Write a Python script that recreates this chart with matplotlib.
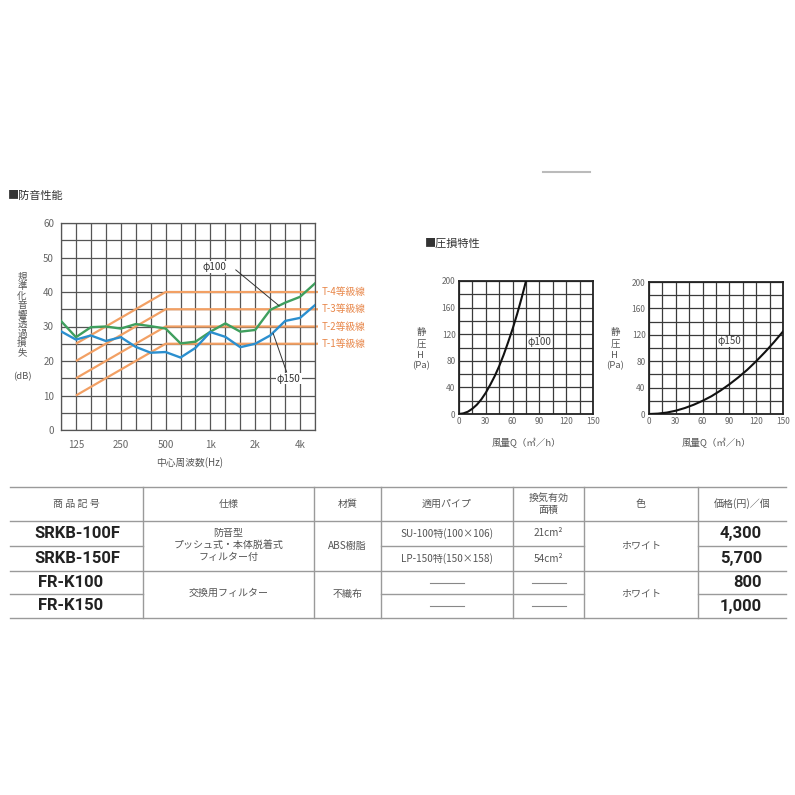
import matplotlib
matplotlib.use("Agg")
import matplotlib.pyplot as plt
from matplotlib.ticker import MultipleLocator

plt.rcParams['font.family'] = ['Noto Sans CJK JP', 'DejaVu Sans']

# 防音性能 : 1/3 octave bands
bands = ["100", "125", "160", "200", "250", "315", "400", "500", "630", "800",
         "1k", "1.25k", "1.6k", "2k", "2.5k", "3.15k", "4k", "5k"]
shown_bands = ["125", "250", "500", "1k", "2k", "4k"]
loss_phi100 = [31.6, 26.9, 29.8, 30.0, 29.4, 30.7, 30.1, 29.4, 25.1, 25.6,
               28.5, 30.9, 28.5, 29.0, 34.8, 36.9, 38.6, 42.5]
loss_phi150 = [28.6, 26.2, 27.4, 25.8, 26.9, 24.1, 22.4, 22.6, 21.0, 23.8,
               28.4, 27.0, 24.0, 25.0, 27.4, 31.6, 32.5, 36.2]
grade_names = ["T-1等級線", "T-2等級線", "T-3等級線", "T-4等級線"]
grade_start = [10, 15, 20, 25]   # at 125 Hz
grade_flat = [25, 30, 35, 40]    # 500 Hz and up

# 圧損特性
flow_phi100 = [0, 5, 10, 15, 20, 25, 30, 35, 40, 45, 50, 55, 60, 65, 70, 75]
pres_phi100 = [0, 1, 3.5, 8, 14, 22, 32, 44, 57, 72, 89, 108, 128, 150, 174, 200]
flow_phi150 = [0, 10, 20, 30, 40, 50, 60, 70, 80, 90, 100, 110, 120, 130, 140, 150]
pres_phi150 = [0, 0.6, 2.2, 5, 9, 14, 20, 27, 35.5, 45, 55.5, 67, 80, 94, 109, 125]

# table
header = ["商 品 記 号", "仕様", "材質", "適用パイプ", "換気有効\n面積", "色", "価格(円)／個"]
models = ["SRKB-100F", "SRKB-150F", "FR-K100", "FR-K150"]
specs = ["防音型\nプッシュ式・本体脱着式\nフィルター付", "交換用フィルター"]
materials = ["ABS樹脂", "不織布"]
pipes = ["SU-100特(100×106)", "LP-150特(150×158)", None, None]
areas = ["21cm²", "54cm²", None, None]
colours = ["ホワイト", "ホワイト"]
prices = ["4,300", "5,700", "800", "1,000"]

W = H = 795
fig = plt.figure(figsize=(W / 100, H / 100), dpi=100)
fig.patch.set_facecolor("white")


def box(left, top, right, bottom):
    return [left / W, 1 - bottom / H, (right - left) / W, (bottom - top) / H]


# overlay in pixel coordinates for loose text and the table
bg = fig.add_axes([0, 0, 1, 1], zorder=0)
bg.set_xlim(0, W)
bg.set_ylim(H, 0)
bg.axis("off")

GRID = "#555555"
LABEL = "#666666"
ORANGE = "#f2a064"
GREEN = "#3f9f5e"
BLUE = "#2b8fcf"

# ---------------- 防音性能 ----------------
bg.text(8, 196, "■防音性能", fontsize=8, color="#333333", va="center")

ax = fig.add_axes(box(61, 223, 315, 430), zorder=2)
x = list(range(len(bands)))
ax.set_xlim(0, len(bands) - 1)
ax.set_ylim(0, 60)
ax.set_xticks([bands.index(b) for b in shown_bands])
ax.set_xticklabels(shown_bands)
ax.xaxis.set_minor_locator(MultipleLocator(1))
ax.yaxis.set_major_locator(MultipleLocator(10))
ax.yaxis.set_minor_locator(MultipleLocator(5))
ax.grid(True, which="both", color=GRID, lw=0.9, zorder=0)
ax.tick_params(which="both", length=0, labelsize=7, labelcolor=LABEL)
ax.tick_params(axis="x", pad=7)
ax.tick_params(axis="y", pad=5)
for s in ax.spines.values():
    s.set_color(GRID)
    s.set_linewidth(0.9)

i125 = bands.index("125")
i500 = bands.index("500")
iend = len(bands) - 1
for name, a, b in zip(grade_names, grade_start, grade_flat):
    ax.plot([i125, i500, iend + 0.2], [a, b, b], color=ORANGE, lw=1.6,
            zorder=2, clip_on=False, solid_capstyle="butt")
    ax.text(iend + 0.45, b, name, color="#e8874a", fontsize=7, va="center",
            ha="left", clip_on=False)

ax.plot(x, loss_phi100, color=GREEN, lw=1.7, zorder=3)
ax.plot(x, loss_phi150, color=BLUE, lw=1.7, zorder=3)

ax.plot([11.7, 14.6], [46.4, 36.0], color="#333333", lw=0.7, zorder=4)
ax.text(10.25, 47.2, "φ100", fontsize=7, color="#333333", ha="center",
        va="center", zorder=5,
        bbox=dict(facecolor="white", edgecolor="none", pad=0.6))
ax.plot([15.1, 14.2], [16.8, 28.0], color="#333333", lw=0.7, zorder=4)
ax.text(15.25, 14.9, "φ150", fontsize=7, color="#333333", ha="center",
        va="center", zorder=5,
        bbox=dict(facecolor="white", edgecolor="none", pad=0.6))

ylab = "規準化音響透過損失"
for k, ch in enumerate(ylab):
    bg.text(22, 277 + k * 9.5, ch, fontsize=6.8, color="#555555",
            ha="center", va="center")
bg.text(22, 377, "(dB)", fontsize=6.8, color="#555555", ha="center", va="center")
bg.text(190, 463, "中心周波数(Hz)", fontsize=7, color="#555555",
        ha="center", va="center")

# ---------------- 圧損特性 ----------------
bg.text(425, 244, "■圧損特性", fontsize=8, color="#333333", va="center")


def pressure_chart(left, top, right, bottom, q, h, tag, tag_xy, lab_x):
    a = fig.add_axes(box(left, top, right, bottom), zorder=2)
    a.set_xlim(0, 150)
    a.set_ylim(0, 200)
    a.xaxis.set_major_locator(MultipleLocator(30))
    a.xaxis.set_minor_locator(MultipleLocator(15))
    a.yaxis.set_major_locator(MultipleLocator(40))
    a.yaxis.set_minor_locator(MultipleLocator(20))
    a.grid(True, which="both", color="#3a3a3a", lw=0.9, zorder=0)
    a.tick_params(which="both", length=0, labelsize=6, labelcolor=LABEL,
                  pad=2.5)
    for s in a.spines.values():
        s.set_color("#222222")
        s.set_linewidth(1.3)
    a.plot(q, h, color="#111111", lw=1.5, zorder=3)
    a.text(tag_xy[0], tag_xy[1], tag, fontsize=7, color="#444444",
           ha="center", va="center", zorder=4,
           bbox=dict(facecolor="white", edgecolor="none", pad=0.4))
    for txt, yy in zip(["静", "圧", "H", "(Pa)"], [333, 344, 355, 366]):
        bg.text(lab_x, yy, txt, fontsize=6.8, color="#555555",
                ha="center", va="center")
    bg.text((left + right) / 2, 443, "風量Q（㎥／h）", fontsize=6.8,
            color="#555555", ha="center", va="center")
    return a


pressure_chart(459, 281, 593, 414, flow_phi100, pres_phi100, "φ100",
               (90, 108), 421)
pressure_chart(649, 282, 783, 414, flow_phi150, pres_phi150, "φ150",
               (90, 110), 615)

# small mark at top
bg.plot([543, 590], [172, 172], color="#bbbbbb", lw=1.5)

# ---------------- table ----------------
cols = [10, 143, 314, 381, 513, 584, 698, 786]
rows = [487, 521, 546, 571, 594, 618]
LINE = "#9a9a9a"
for yy in [rows[0], rows[1], rows[3], rows[5]]:
    bg.plot([cols[0], cols[-1]], [yy, yy], color=LINE, lw=1.0)
for yy in [rows[2], rows[4]]:
    for c0, c1 in [(0, 1), (3, 5), (6, 7)]:
        bg.plot([cols[c0], cols[c1]], [yy, yy], color=LINE, lw=1.0)
for xx in cols[1:-1]:
    bg.plot([xx, xx], [rows[0], rows[-1]], color=LINE, lw=1.0)

centers = [(cols[i] + cols[i + 1]) / 2 for i in range(len(cols) - 1)]
hy = (rows[0] + rows[1]) / 2
for c, txt in zip(centers, header):
    bg.text(c, hy, txt, fontsize=7.2, color="#555555", ha="center",
            va="center", linespacing=1.25)

row_y = [(rows[i] + rows[i + 1]) / 2 for i in range(1, len(rows) - 1)]
model_x = [77, 77, 71, 71]
for xx, yy, m in zip(model_x, row_y, models):
    bg.text(xx, yy, m, fontsize=12, fontweight="bold", family="Roboto",
            color="#222222", ha="center", va="center")
for yy, p in zip(row_y, prices):
    bg.text(762, yy, p, fontsize=12, fontweight="bold", family="Roboto",
            color="#222222", ha="right", va="center")

pair_y = [rows[2], rows[4]]
for yy, s in zip(pair_y, specs):
    bg.text(centers[1], yy - 1, s, fontsize=7.2, color="#555555",
            ha="center", va="center", linespacing=1.2)
for yy, m in zip(pair_y, materials):
    bg.text(centers[2], yy, m, fontsize=7.2, color="#555555",
            ha="center", va="center")
for yy, c in zip(pair_y, colours):
    bg.text(centers[5], yy, c, fontsize=7.2, color="#555555",
            ha="center", va="center")

for yy, p, ar in zip(row_y, pipes, areas):
    if p is None:
        bg.plot([centers[3] - 17, centers[3] + 17], [yy, yy], color="#888888", lw=0.8)
        bg.plot([centers[4] - 17, centers[4] + 17], [yy, yy], color="#888888", lw=0.8)
    else:
        bg.text(centers[3], yy, p, fontsize=7.2, color="#555555",
                ha="center", va="center")
        bg.text(centers[4], yy, ar, fontsize=7.2, color="#555555",
                ha="center", va="center")

fig.savefig("out.png", dpi=100, facecolor="white")
